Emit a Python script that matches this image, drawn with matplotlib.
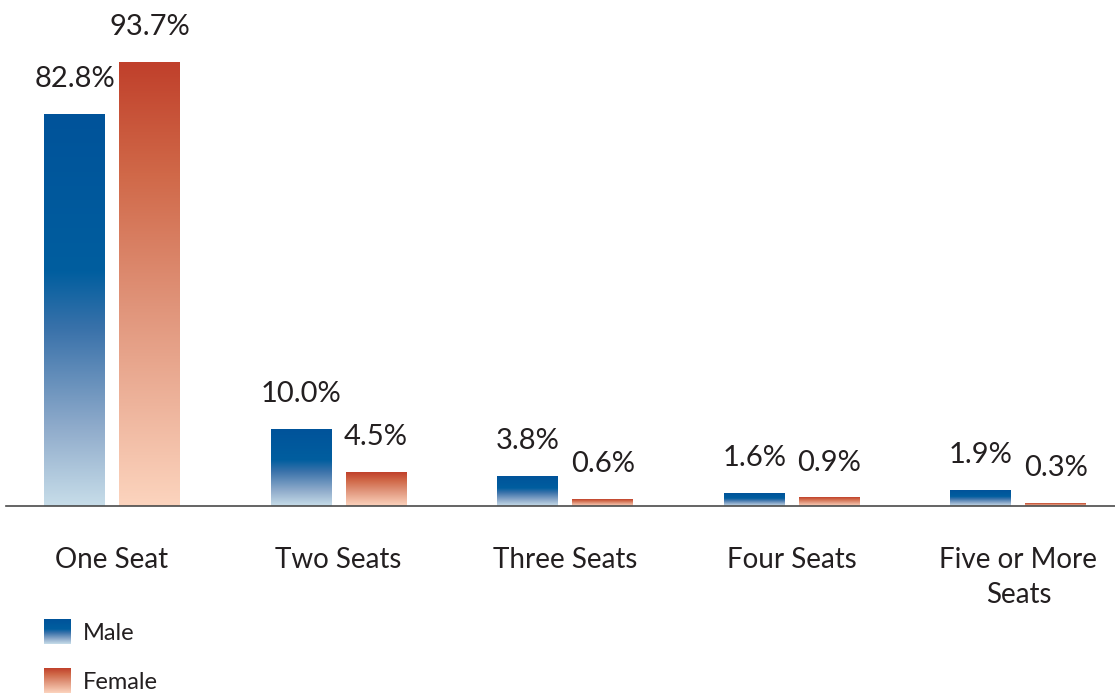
import numpy as np
import matplotlib
matplotlib.use("Agg")
import matplotlib.pyplot as plt
from matplotlib.colors import LinearSegmentedColormap

plt.rcParams["font.family"] = ["Lato", "DejaVu Sans"]

categories = ["One Seat", "Two Seats", "Three Seats", "Four Seats", "Five or More\nSeats"]
male_labels = ["82.8%", "10.0%", "3.8%", "1.6%", "1.9%"]
female_labels = ["93.7%", "4.5%", "0.6%", "0.9%", "0.3%"]
# bar heights as drawn in the source graphic (small bars are drawn taller than their labels say)
male_heights = [82.8, 16.2, 6.3, 2.7, 3.3]
female_heights = [93.7, 7.1, 1.3, 1.7, 0.6]

TEXT = "#231f20"
blue = LinearSegmentedColormap.from_list(
    "male", [(0.0, "#c7dde9"), (0.2, "#8fabcb"), (0.45, "#3a72aa"), (0.6, "#005e9f"), (1.0, "#00539a")])
red = LinearSegmentedColormap.from_list(
    "female", [(0.0, "#fcd4be"), (0.45, "#e0947a"), (0.75, "#d06848"), (1.0, "#c0402b")])
grad = np.linspace(0, 1, 256).reshape(-1, 1)

fig = plt.figure(figsize=(11.15, 6.93), dpi=100)
ax = fig.add_axes([6 / 1115, 187.3 / 693, 1109 / 1115, 505.7 / 693])

x = np.arange(len(categories))
w = 0.269
off = 0.1655
for xs, hs, labs, cmap in [(x - off, male_heights, male_labels, blue),
                           (x + off, female_heights, female_labels, red)]:
    bars = ax.bar(xs, hs, width=w, color="none", edgecolor="none")
    for b, lab in zip(bars, labs):
        x0, bw, h = b.get_x(), b.get_width(), b.get_height()
        ax.imshow(grad, extent=[x0, x0 + bw, 0, h], origin="lower", cmap=cmap,
                  aspect="auto", interpolation="bilinear", zorder=2)
        ax.annotate(lab, (x0 + bw / 2, h), xytext=(0, 19.5), textcoords="offset points",
                    ha="center", va="baseline", fontsize=21, color=TEXT)

ax.set_xlim(-0.468, 4.426)
ax.set_ylim(0, 106.85)
ax.set_aspect("auto")
for s in ["top", "left", "right"]:
    ax.spines[s].set_visible(False)
ax.spines["bottom"].set_color("#4a4a4a")
ax.spines["bottom"].set_linewidth(1.2)
ax.spines["bottom"].set_zorder(3)
ax.set_yticks([])
ax.set_xticks(x)
ax.set_xticklabels(categories, fontsize=20, color=TEXT, linespacing=1.45)
ax.tick_params(axis="x", length=0, pad=29.5)

# legend swatches with the same gradients
for i, (name, cmap) in enumerate([("Male", blue), ("Female", red)]):
    top = 619 + i * 49
    sw = fig.add_axes([44 / 1115, (693 - top - 25) / 693, 27 / 1115, 25 / 693])
    sw.imshow(grad, origin="lower", cmap=cmap, aspect="auto", extent=[0, 1, 0, 1])
    sw.axis("off")
    fig.text(83 / 1115, (693 - top - 21) / 693, name, fontsize=17, color=TEXT, va="baseline")

fig.savefig("out.png", dpi=100)
